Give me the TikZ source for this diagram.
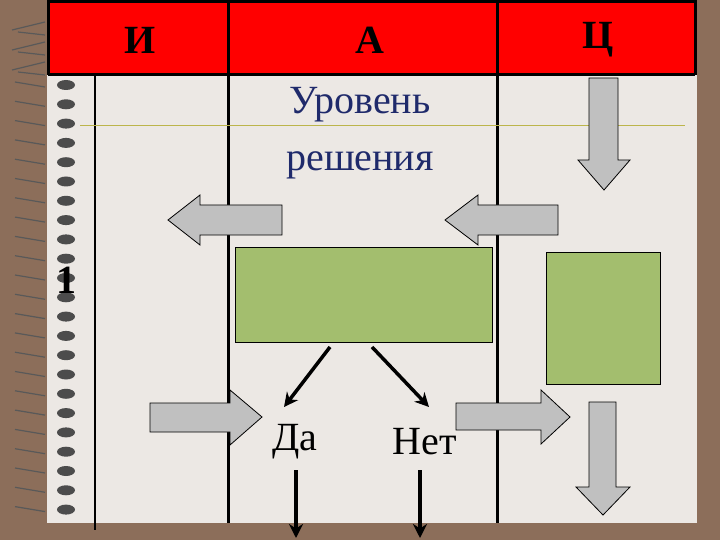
\documentclass[tikz,border=0pt]{standalone}
\usepackage{fontspec}
\setmainfont{Liberation Serif}
\usetikzlibrary{arrows.meta}
\definecolor{frame}{HTML}{8C6E5A}
\definecolor{paper}{HTML}{ECE8E4}
\definecolor{hdr}{HTML}{FF0000}
\definecolor{grn}{HTML}{A3BE6E}
\definecolor{arr}{HTML}{C0C0C0}
\definecolor{navy}{HTML}{1F2A6B}
\tikzset{
 garrow/.style={fill=arr,draw=black,line width=0.8pt},
 gbox/.style={fill=grn,draw=black,line width=1pt},
 bline/.style={line width=3pt},
 barrow/.style={line width=3.5pt,-{Stealth[length=14pt,width=14pt]}},
 lbl/.style={font=\fontsize{40}{44}\selectfont},
}
\begin{document}
\begin{tikzpicture}[x=1pt,y=-1pt]
\useasboundingbox (0,0) rectangle (720,540);
\fill[frame] (0,0) rectangle (720,540);
\fill[paper] (47,0) rectangle (697,523);
% header
\fill[hdr] (48,0) rectangle (695,75);
\draw[line width=3pt] (48,1.5) -- (695,1.5) (48,75) -- (695,75) (48,0) -- (48,75) (695,0) -- (695,75);
\draw[bline] (228,0) -- (228,523) (497,0) -- (497,523);
\draw[line width=2.5pt] (95,75) -- (95,530);
\draw[color=olive!60,line width=0.6pt] (80,125) -- (685,125);
% spiral
\foreach \i in {0,...,22}{
  \pgfmathsetmacro\yy{85+19.3*\i}
  \draw[gray!70!black,line width=1.2pt] (15,\yy-3) -- (45,\yy+2);
  \fill[black!70] (66,\yy) ellipse (9 and 5);
}
\foreach \yy in {30,50,70}{\draw[gray!70!black,line width=1.2pt] (12,\yy) -- (45,\yy-8) (18,\yy+2) -- (45,\yy+5);}
% header text
\node[lbl,font=\bfseries\fontsize{40}{44}\selectfont] (hi) at (140,40) {И};
\node[lbl,font=\bfseries\fontsize{40}{44}\selectfont] (ha) at (370,40) {А};
\node[lbl,font=\bfseries\fontsize{40}{44}\selectfont] (hc) at (598,40) {Ц};
\node[lbl,text=navy] (u1) at (360,105) {Уровень};
\node[lbl,text=navy] (u2) at (360,165) {решения};
\node[font=\bfseries\fontsize{40}{44}\selectfont] (one) at (66,280) {1};
% gray arrows
\draw[garrow] (168,220) -- (200,195) -- (200,205) -- (282,205) -- (282,235) -- (200,235) -- (200,245) -- cycle;
\draw[garrow] (445,220) -- (478,195) -- (478,205) -- (558,205) -- (558,235) -- (478,235) -- (478,245) -- cycle;
\draw[garrow] (604,190) -- (578,160) -- (589,160) -- (589,78) -- (618,78) -- (618,160) -- (630,160) -- cycle;
\draw[garrow] (262,417) -- (230,390) -- (230,403) -- (150,403) -- (150,432) -- (230,432) -- (230,445) -- cycle;
\draw[garrow] (570,417) -- (541,390) -- (541,403) -- (456,403) -- (456,430) -- (541,430) -- (541,444) -- cycle;
\draw[garrow] (603,515) -- (576,487) -- (589,487) -- (589,402) -- (616,402) -- (616,487) -- (630,487) -- cycle;
% boxes
\node[gbox,minimum width=257pt,minimum height=95pt,inner sep=0pt] (b1) at (363.5,294.5) {};
\node[gbox,minimum width=114pt,minimum height=132pt,inner sep=0pt] (b2) at (603,318) {};
% decision
\node[lbl] (da) at (295,442) {Да};
\node[lbl] (net) at (425,442) {Нет};
\coordinate (s1) at (330,347); \coordinate (e1) at (284,407);
\coordinate (s2) at (372,347); \coordinate (e2) at (429,407);
\draw[barrow] (s1) -- (e1);
\draw[barrow] (s2) -- (e2);
\coordinate (d1) at (296,538); \coordinate (d2) at (420,538);
\coordinate (t1) at (296,470); \coordinate (t2) at (420,470);
\draw[barrow] (t1) -- (d1);
\draw[barrow] (t2) -- (d2);
\end{tikzpicture}
\end{document}
